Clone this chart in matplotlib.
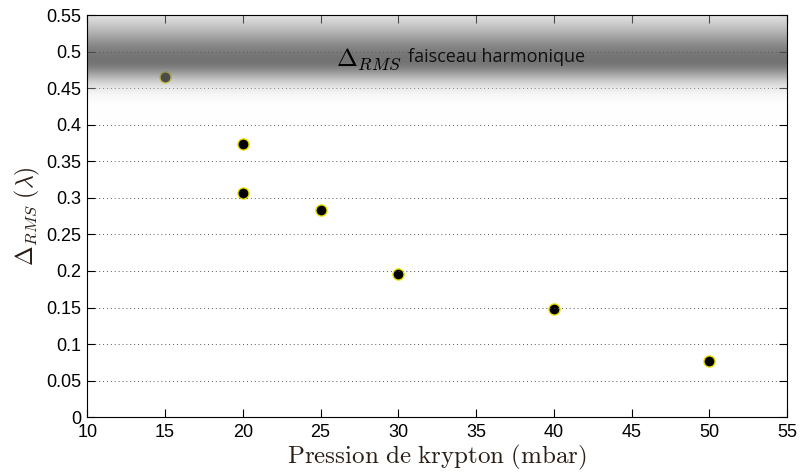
import numpy as np
import matplotlib
matplotlib.use("Agg")
from matplotlib import pyplot as plt
from matplotlib import font_manager

pressure = [15, 20, 20, 25, 30, 40, 50]
delta_rms = [0.465, 0.374, 0.307, 0.283, 0.196, 0.148, 0.077]

xticks = [10, 15, 20, 25, 30, 35, 40, 45, 50, 55]
yticks = [0, 0.05, 0.1, 0.15, 0.2, 0.25, 0.3, 0.35, 0.4, 0.45, 0.5, 0.55]
ytick_labels = ['0', '0.05', '0.1', '0.15', '0.2', '0.25', '0.3', '0.35', '0.4', '0.45', '0.5', '0.55']

harmonic_level = 0.488

plt.rcParams['mathtext.fontset'] = 'cm'
names = {f.name for f in font_manager.fontManager.ttflist}
tick_font = 'Liberation Sans Narrow' if 'Liberation Sans Narrow' in names else 'Liberation Sans'

fig = plt.figure(figsize=(8, 4.73), dpi=100)
ax = fig.add_axes([0.109, 0.118, 0.875, 0.85])

ax.plot(pressure, delta_rms, 'o', color='black', markersize=8,
        markeredgecolor='#e8e000', markeredgewidth=1.0, zorder=2)

# translucent grey band for the harmonic beam (drawn over the markers)
yy = np.linspace(0.40, 0.55, 300)
sig = np.where(yy > harmonic_level, 0.05, 0.028)
dark = 0.55 * np.exp(-((yy - harmonic_level) / sig) ** 2)
alpha = dark + 0.3
grey = 1 - dark / alpha
band = np.zeros((len(yy), 2, 4))
band[:, :, 0] = grey[:, None]
band[:, :, 1] = grey[:, None]
band[:, :, 2] = grey[:, None]
band[:, :, 3] = alpha[:, None]
ax.imshow(band, extent=[10, 55, 0.40, 0.55], origin='lower', aspect='auto',
          interpolation='bilinear', zorder=3)

ax.set_xlim(10, 55)
ax.set_ylim(0, 0.55)
ax.set_xticks(xticks)
ax.set_yticks(yticks)
ax.set_yticklabels(ytick_labels)
for lab in ax.get_xticklabels() + ax.get_yticklabels():
    lab.set_fontfamily(tick_font)
    lab.set_fontsize(13)
ax.tick_params(direction='in', top=True, right=True, length=6, width=0.8)
ax.tick_params(axis='x', pad=5)
ax.tick_params(axis='y', pad=4)

ax.yaxis.grid(True, linestyle=(0, (1, 3)), color='#555555', linewidth=0.7, zorder=4)
ax.set_axisbelow(False)
for s in ax.spines.values():
    s.set_linewidth(0.8)
    s.set_zorder(5)

ax.set_xlabel(r'$\mathrm{Pression\ de\ krypton\ (mbar)}$', fontsize=18, color='#2a1e16', labelpad=1)
ax.set_ylabel(r'$\Delta_{RMS}\ (\lambda)$', fontsize=17, color='#2a1e16', labelpad=3)

ax.text(26.0, harmonic_level + 0.002, r'$\Delta_{RMS}$', fontsize=18, va='center', ha='left', zorder=6)
ax.text(30.6, harmonic_level + 0.005, 'faisceau harmonique', fontsize=13, family='Open Sans',
        va='center', ha='left', zorder=6, color='#111111')

fig.savefig('out.png', dpi=100)
